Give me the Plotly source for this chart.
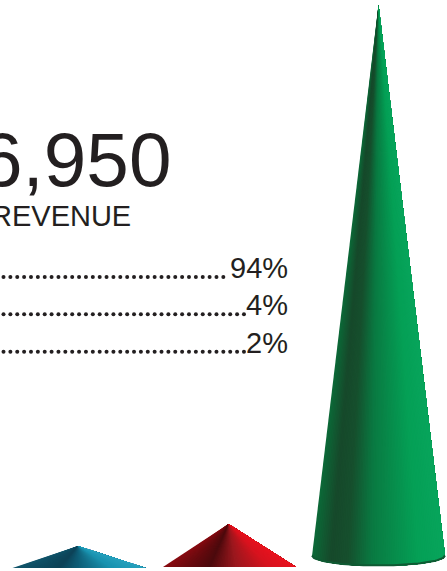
import numpy as np
import plotly.graph_objects as go

# ---- data ----
categories = ["Segment A", "Segment B", "Segment C"]   # cones, left to right
shares = [2, 4, 94]                                    # percent
cone_heights = [22, 43, 561]
cone_centres = [79.0, 229.5, 378.5]
apex_offset = [-1.0, -1.0, 0.0]
base_lines = [568, 567, 566]
base_curve = [0, 0, 10]

share_rows = ["94%", "4%", "2%"]
big_number = "6,950"
big_label = "REVENUE"

half_width = 66.5
ramps = [
    [(0, "#12566c"), (0.35, "#0c4257"), (0.5, "#0f5f78"), (0.75, "#1a93b0"), (1, "#2aa3bf")],
    [(0, "#8a0c12"), (0.35, "#4c0a0d"), (0.55, "#9a181e"), (0.8, "#d8141f"), (1, "#e8131f")],
    [(0, "#0c6a38"), (0.14, "#17492b"), (0.27, "#16502e"), (0.45, "#0a7a42"), (0.8, "#05a056"), (1, "#08a55c")],
]
base_edge = [None, None, "#0f5a33"]
TEXT = "#231f20"


def hex2rgb(h):
    return np.array([int(h[i:i + 2], 16) for i in (1, 3, 5)], float)


def ramp_color(ramp, t):
    pos = [p for p, _ in ramp]
    rgb = np.array([hex2rgb(c) for _, c in ramp])
    return "rgb(%d,%d,%d)" % tuple(np.interp(t, pos, rgb[:, k]) for k in range(3))


fig = go.Figure()
N = 70
for c, h, cx, off, base, curve, ramp, name, edge in zip(
    shares, cone_heights, cone_centres, apex_offset, base_lines, base_curve, ramps, categories, base_edge
):
    apex_y = base - h
    edges = np.linspace(-1, 1, N + 1)
    ys = base - curve * (1 - np.sqrt(1 - edges ** 2))
    xs = cx + half_width * edges
    # painter's order: each slice runs on to the right edge and the next one covers it
    for i in range(N):
        col = ramp_color(ramp, (edges[i] + edges[i + 1] + 2) / 4)
        fig.add_trace(go.Scatter(
            x=np.r_[cx + off, xs[i:], cx + off],
            y=np.r_[apex_y, ys[i:], apex_y],
            mode="lines", fill="toself", fillcolor=col,
            line=dict(width=0),
            hoverinfo="skip", showlegend=False, name=name,
        ))
    if edge:
        fig.add_trace(go.Scatter(x=xs, y=ys - 0.5, mode="lines", line=dict(color=edge, width=2),
                                 hoverinfo="skip", showlegend=False))


def label(x, y, text, size):
    fig.add_annotation(x=x, y=y, text=text, showarrow=False, xanchor="right", yanchor="bottom",
                       xref="x", yref="y", borderpad=0, align="right",
                       font=dict(family="Liberation Sans", size=size, color=TEXT))


label(172, 203, big_number, 76.5)
label(132, 233, big_label, 29)
dot_counts = [33, 36, 36]
dot_rows = [277, 314.3, 351.7]
for row, (txt, n, dy) in enumerate(zip(share_rows, dot_counts, dot_rows)):
    label(289, [285, 322, 360][row], txt, 29)
    fig.add_trace(go.Scatter(
        x=3.5 + 6.87 * np.arange(n), y=np.full(n, dy), mode="markers",
        marker=dict(size=4, color=TEXT, line=dict(width=0)),
        hoverinfo="skip", showlegend=False,
    ))

fig.update_xaxes(range=[0, 447], visible=False, fixedrange=True)
fig.update_yaxes(range=[571, 0], visible=False, fixedrange=True)
fig.update_layout(width=447, height=571, margin=dict(l=0, r=0, t=0, b=0),
                  paper_bgcolor="white", plot_bgcolor="white", showlegend=False)
fig.write_html("out.html", config={"displayModeBar": False},
               post_script="document.body.style.margin='0';document.body.style.overflow='hidden';")
